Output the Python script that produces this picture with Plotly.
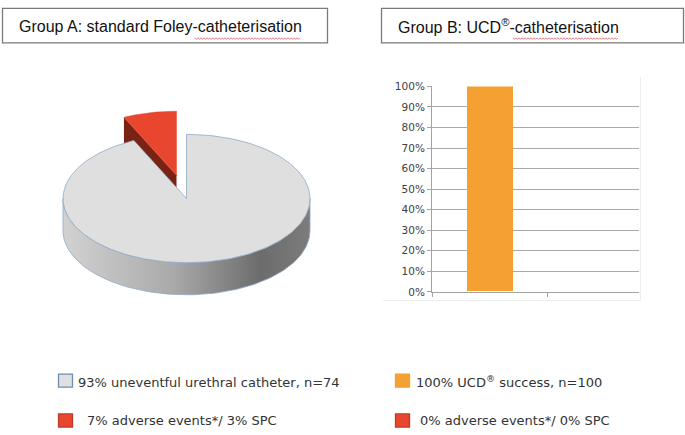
import numpy as np
import plotly.graph_objects as go

W, H = 685, 435

# ---------------- data ----------------
title_a = "Group A: standard Foley-catheterisation"
title_b = "Group B: UCD<sup>®</sup>-catheterisation"

pie_labels = ["93% uneventful urethral catheter, n=74", "7% adverse events*/ 3% SPC"]
pie_values = [93, 7]
pie_colors = ["#dfdfdf", "#e9462f"]

bar_categories = ["UCD® success", "adverse events*/ SPC"]
bar_values = [100, 0]
bar_colors = ["#f4a033", "#e9462f"]
bar_legend = ["100% UCD<sup>®</sup> success, n=100", "0% adverse events*/ 0% SPC"]

y_tick_values = list(range(0, 101, 10))
y_tick_labels = [f"{v}%" for v in y_tick_values]


def px(x):
    return x / W


def py(y):
    return 1 - y / H


fig = go.Figure()

# ---------------- 3D pie (group A) ----------------
cx, cy, rx, ry, depth = 186.5, 198.0, 123.5, 66.0, 33.0
total = float(sum(pie_values))
t_red = 2 * np.pi * pie_values[1] / total  # red slice from 12 o'clock, counter-clockwise


def ell(t):
    return cx - rx * np.sin(t), cy - ry * np.cos(t)


# explode red slice along its bisector
tm = t_red / 2
k = 0.37
ox, oy = -rx * np.sin(tm) * k, -ry * np.cos(tm) * k

# red dark radial face
ex, ey = ell(t_red)
fig.add_trace(go.Scatter(
    x=[ex + ox, cx + ox, cx + ox, ex + ox, ex + ox],
    y=[ey + oy, cy + oy, cy + oy + depth, ey + oy + depth, ey + oy],
    mode="lines", fill="toself", fillcolor="#7a2214", line=dict(width=0, color="#7a2214"),
    xaxis="x2", yaxis="y2", hoverinfo="skip", showlegend=False))

# red top face
tr = np.linspace(0, t_red, 30)
rxs, rys = ell(tr)
fig.add_trace(go.Scatter(
    x=np.concatenate([[cx + ox], rxs + ox, [cx + ox]]),
    y=np.concatenate([[cy + oy], rys + oy, [cy + oy]]),
    mode="lines", fill="toself", fillcolor=pie_colors[1], line=dict(width=0.5, color=pie_colors[1]),
    xaxis="x2", yaxis="y2", name=pie_labels[1], hoverinfo="name", showlegend=False))

# gray side (front half)
ts = np.linspace(np.pi / 2, 3 * np.pi / 2, 120)
sx, sy = ell(ts)
fig.add_trace(go.Scatter(
    x=np.concatenate([sx, sx[::-1], [sx[0]]]),
    y=np.concatenate([sy, sy[::-1] + depth, [sy[0]]]),
    mode="lines", fill="toself",
    fillgradient=dict(type="horizontal",
                      colorscale=[[0, "#d2d2d2"], [0.45, "#a9a9a9"], [0.8, "#6c6c6c"], [1, "#7c7c7c"]]),
    line=dict(width=0.8, color="#8fa8c6"),
    xaxis="x2", yaxis="y2", hoverinfo="skip", showlegend=False))

# gray top face
tg = np.linspace(t_red, 2 * np.pi, 300)
gx, gy = ell(tg)
fig.add_trace(go.Scatter(
    x=np.concatenate([[cx], gx, [cx]]),
    y=np.concatenate([[cy], gy, [cy]]),
    mode="lines", fill="toself", fillcolor=pie_colors[0], line=dict(width=0.8, color="#8fa8c6"),
    xaxis="x2", yaxis="y2", name=pie_labels[0], hoverinfo="name", showlegend=False))

# ---------------- bar chart (group B) ----------------
fig.add_trace(go.Bar(
    x=list(range(len(bar_categories))), y=bar_values, width=0.4,
    marker=dict(color=bar_colors, line=dict(width=0)),
    hovertext=bar_categories, hoverinfo="text+y", showlegend=False,
    xaxis="x", yaxis="y"))

shapes = []
annotations = []

# title boxes
for x0, x1 in [(2.5, 327.5), (381.5, 683.5)]:
    shapes.append(dict(type="rect", xref="paper", yref="paper",
                       x0=px(x0), x1=px(x1), y0=py(2.5), y1=py(38),
                       line=dict(color="#7a7a7a", width=1.3), fillcolor="rgba(0,0,0,0)"))

# spell-check squiggles under "catheterisation"
def squiggle(x0, x1, y):
    xs = np.arange(x0, x1, 1.5)
    pts = [f"{px(xv):.5f},{py(y + (0.8 if i % 2 else -0.8)):.5f}" for i, xv in enumerate(xs)]
    return "M" + " L".join(pts)


for (a, b) in [(195, 301), (513, 619)]:
    shapes.append(dict(type="path", xref="paper", yref="paper", path=squiggle(a, b, 33.5),
                       line=dict(color="#e06060", width=0.8)))

annotations.append(dict(x=px(16.5), y=py(21), xref="paper", yref="paper", xanchor="left",
                        yanchor="middle", showarrow=False, text=title_a,
                        font=dict(family="Liberation Sans, Arial", size=16, color="#111111")))
annotations.append(dict(x=px(396), y=py(21), xref="paper", yref="paper", xanchor="left",
                        yanchor="middle", showarrow=False, text=title_b,
                        font=dict(family="Liberation Sans, Arial", size=16, color="#111111")))

# faint chart-area edge (right and bottom only)
shapes.append(dict(type="path", xref="paper", yref="paper",
                   path=f"M{px(640.5)},{py(73)} L{px(640.5)},{py(303)} L{px(383)},{py(303)}",
                   line=dict(color="#eeeeee", width=1)))

# legends
leg_font = dict(family="DejaVu Sans, Verdana", size=13, color="#333333")
legend_items = [
    (58.5, 378.5, "#e0e0e0", "#6f8db0", 76, 387, pie_labels[0]),
    (58.5, 419.5, pie_colors[1], "#c23a26", 85, 426.5, pie_labels[1]),
    (395.5, 378.5, bar_colors[0], bar_colors[0], 413.5, 386.5, bar_legend[0]),
    (395.5, 419.5, bar_colors[1], "#c23a26", 417.5, 426.5, bar_legend[1]),
]
for bx, by, fc, lc, tx, ty, txt in legend_items:
    shapes.append(dict(type="rect", xref="paper", yref="paper", x0=px(bx), x1=px(bx + 14),
                       y0=py(by), y1=py(by + 13.5), fillcolor=fc, line=dict(color=lc, width=1.3)))
    annotations.append(dict(x=px(tx), y=py(ty), xref="paper", yref="paper", xanchor="left",
                            yanchor="middle", showarrow=False, text=txt, font=leg_font))

axis_col = "#a3a3a3"
fig.update_layout(
    width=W, height=H, margin=dict(l=0, r=0, t=0, b=0),
    paper_bgcolor="white", plot_bgcolor="rgba(0,0,0,0)",
    bargap=0,
    xaxis=dict(domain=[px(432), px(639)], range=[-0.5, 1.3], tickvals=[-0.5, 0.5],
               ticks="outside", ticklen=4, tickcolor=axis_col, showticklabels=False,
               showline=True, linecolor=axis_col, linewidth=1, showgrid=False, zeroline=False,
               anchor="y", fixedrange=True),
    yaxis=dict(domain=[py(294), py(82.7)], range=[0, 100], tickvals=y_tick_values,
               ticktext=y_tick_labels, ticks="outside", ticklen=4, tickcolor=axis_col,
               showline=True, linecolor=axis_col, linewidth=1, gridcolor="#a9a9a9", gridwidth=1,
               zeroline=False, tickfont=dict(family="DejaVu Sans, Verdana", size=10.5, color="#404040"),
               anchor="x", fixedrange=True),
    xaxis2=dict(domain=[0, px(340)], range=[0, 340], visible=False, anchor="y2", fixedrange=True),
    yaxis2=dict(domain=[0, 1], range=[H, 0], visible=False, anchor="x2", fixedrange=True),
    shapes=shapes, annotations=annotations,
)

fig.write_html("out.html", config={"displayModeBar": False},
               post_script="document.body.style.margin='0';document.body.style.overflow='hidden';")
